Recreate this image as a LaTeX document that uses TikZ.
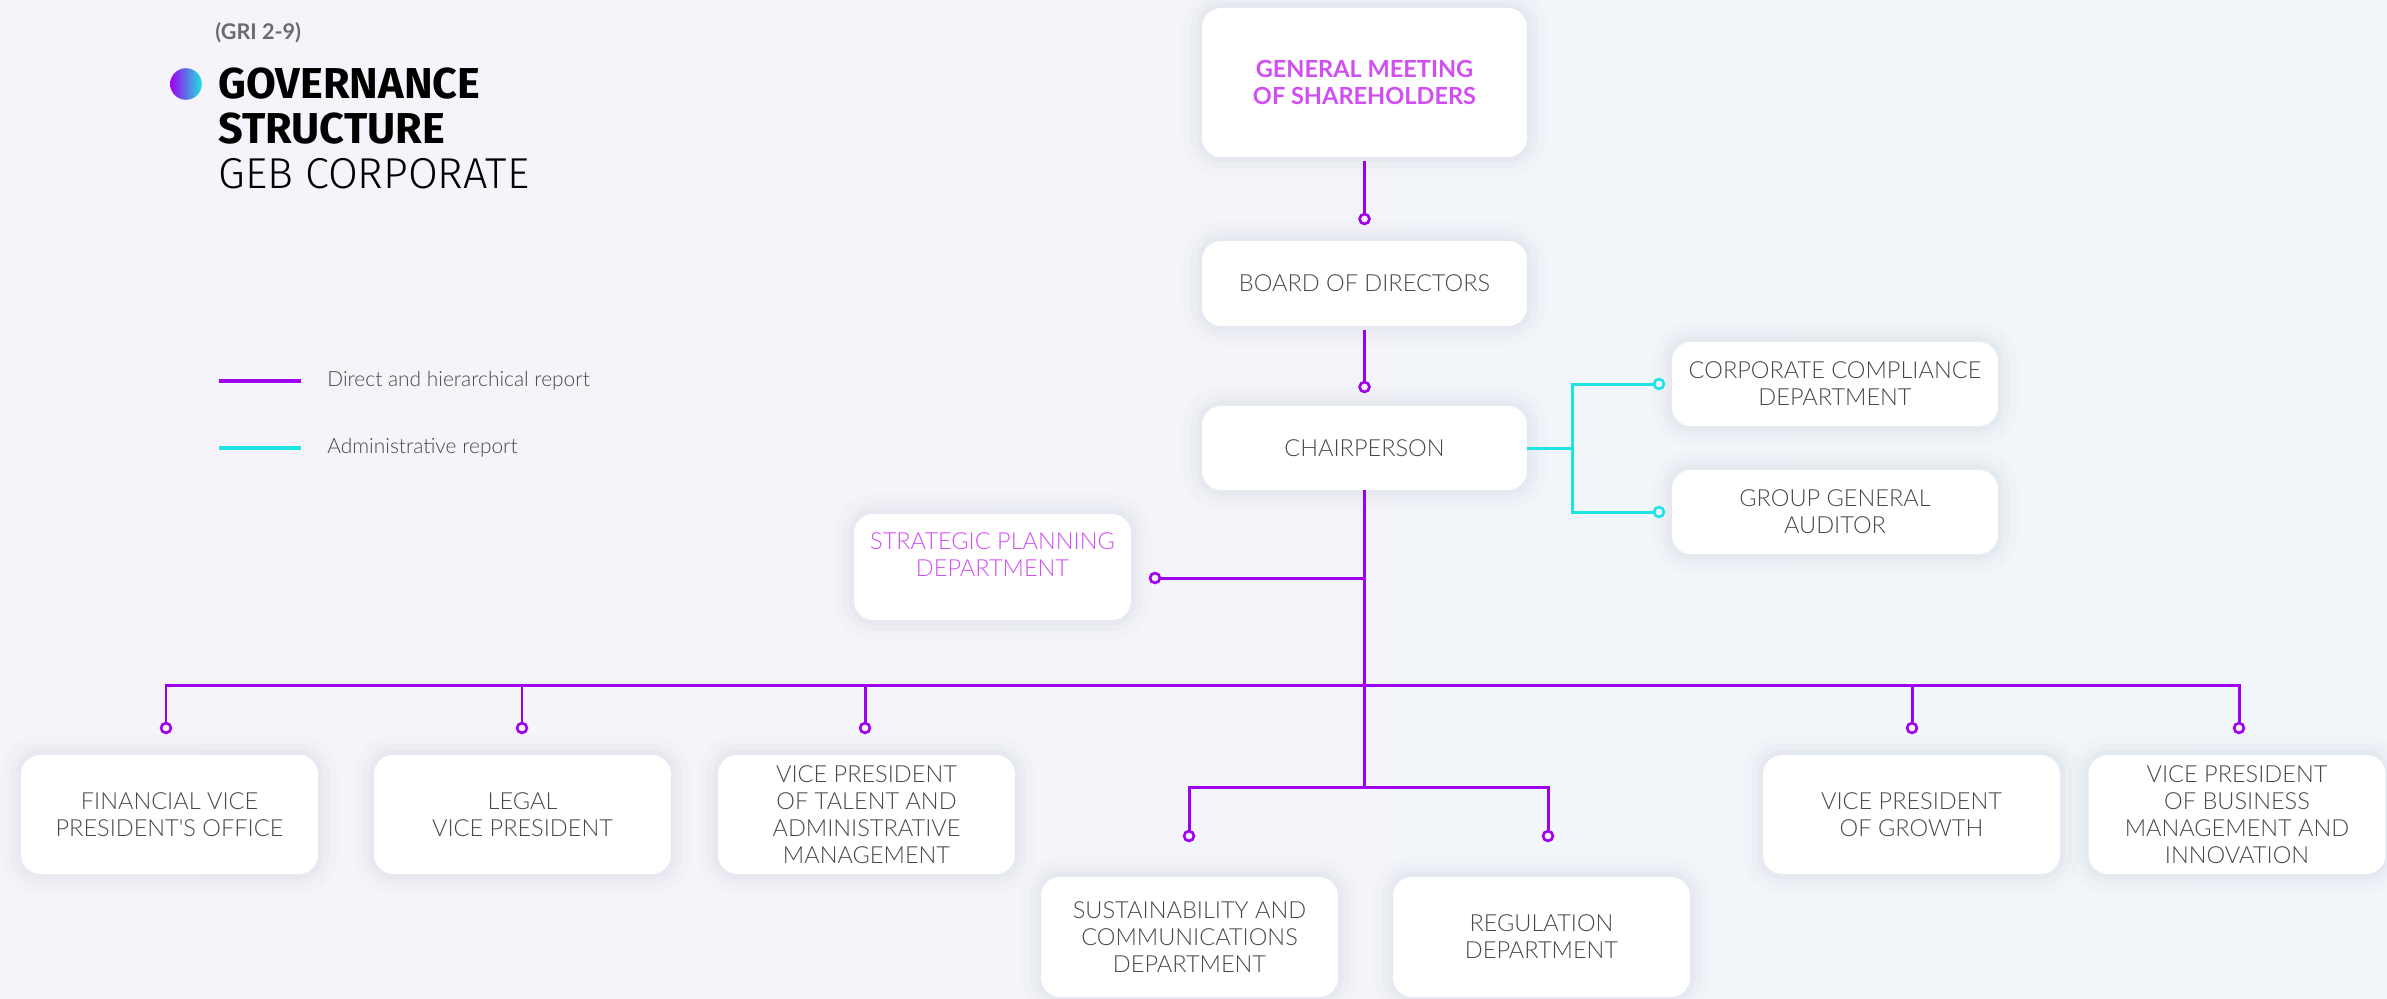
\documentclass[tikz,border=0pt]{standalone}
\usepackage{fontspec}
\setmainfont{Lato}[BoldFont={Lato Bold}]
\newfontfamily\lightfont{Lato Light}
\newfontfamily\titlefont{Fira Sans}
\newfontfamily\titlelight{Fira Sans Light}
\definecolor{vio}{HTML}{A000F0}
\definecolor{cya}{HTML}{1EE3E3}
\definecolor{mag}{HTML}{D04EF2}
\definecolor{txtgray}{HTML}{474747}
\definecolor{bgl}{HTML}{F6F4FA}
\definecolor{bgr}{HTML}{F0F6FA}
\definecolor{glow}{HTML}{6A6A90}

\begin{document}
\begin{tikzpicture}[x=0.02cm, y=-0.02cm,
  every node/.style={font=\lightfont\fontsize{13.4}{15.3}\selectfont, text=txtgray},
  box/.style={fill=white, rounded corners=11pt, align=center, inner sep=0pt,
    minimum width=6.5cm,
    preaction={draw=glow, draw opacity=0.018, line width=22pt},
    preaction={draw=glow, draw opacity=0.025, line width=13pt},
    preaction={draw=glow, draw opacity=0.03, line width=6pt}},
  lowbox/.style={box, minimum width=5.94cm, minimum height=2.38cm},
  hier/.style={draw=vio, line width=1.7pt},
  admin/.style={draw=cya, line width=1.7pt},
  ring/.style={circle, draw=vio, fill=bgl, line width=1.5pt, minimum size=5.6pt, inner sep=0pt}]
\useasboundingbox (0,0) rectangle (2387,998);
\shade[left color=bgl, right color=bgr] (0,0) rectangle (2387,998);

% title and legend
\node[anchor=west, inner sep=0pt, font=\bfseries\fontsize{12.3}{14}\selectfont, text=black!58] (gri) at (215,33) {(GRI 2-9)};
\shade[left color=vio, middle color={rgb,255:red,90;green,110;blue,240}, right color=cya] (186,84) circle (9pt);
\node[anchor=north west, inner sep=0pt, align=left, text=black,
  font=\titlefont\fontsize{24.6}{25.8}\selectfont] (title) at (218,67)
  {\textbf{GOVERNANCE}\\\textbf{STRUCTURE}\\{\titlelight GEB CORPORATE}};
\coordinate (l1a) at (219,381);
\coordinate (l1b) at (301,381);
\coordinate (l2a) at (219,448);
\coordinate (l2b) at (301,448);
\draw[hier, line width=2.8pt] (l1a) -- (l1b);
\draw[admin, line width=2.8pt] (l2a) -- (l2b);
\node[anchor=west, inner sep=0pt, font=\lightfont\fontsize{11.9}{14}\selectfont] (l1t) at (327,381) {Direct and hierarchical report};
\node[anchor=west, inner sep=0pt, font=\lightfont\fontsize{11.9}{14}\selectfont] (l2t) at (327,448) {Administrative report};

% top of the chart
\node[box, minimum height=2.98cm, text=mag, font=\bfseries\fontsize{13.4}{15.3}\selectfont] (gms) at (1364.5,82.5) {GENERAL MEETING\\OF SHAREHOLDERS};
\node[box, minimum height=1.7cm] (bod) at (1364.5,283.5) {BOARD OF DIRECTORS};
\node[box, minimum height=1.68cm] (chair) at (1364.5,448) {CHAIRPERSON};
\node[box, minimum width=6.52cm, minimum height=1.68cm] (comp) at (1835,384) {CORPORATE COMPLIANCE\\DEPARTMENT};
\node[box, minimum width=6.52cm, minimum height=1.68cm] (aud) at (1835,512) {GROUP GENERAL\\AUDITOR};
\node[box, minimum width=5.54cm, minimum height=2.12cm, text depth=14pt, text=mag] (strat) at (992.5,567) {STRATEGIC PLANNING\\DEPARTMENT};

% lower rows
\node[lowbox] (fin) at (169.5,814.5) {FINANCIAL VICE\\PRESIDENT'S OFFICE};
\node[lowbox] (leg) at (522.5,814.5) {LEGAL\\VICE PRESIDENT};
\node[lowbox] (tal) at (866.5,814.5) {VICE PRESIDENT\\OF TALENT AND\\ADMINISTRATIVE\\MANAGEMENT};
\node[lowbox, minimum height=2.4cm] (sus) at (1189.5,937) {SUSTAINABILITY AND\\COMMUNICATIONS\\DEPARTMENT};
\node[lowbox, minimum height=2.4cm] (reg) at (1541.5,937) {REGULATION\\DEPARTMENT};
\node[lowbox] (gro) at (1911.5,814.5) {VICE PRESIDENT\\OF GROWTH};
\node[lowbox] (biz) at (2237,814.5) {VICE PRESIDENT\\OF BUSINESS\\MANAGEMENT AND\\INNOVATION};

% end rings
\node[ring] (m1) at (1364.5,219) {};
\node[ring] (m2) at (1364.5,387) {};
\node[ring] (mstr) at (1155,578) {};
\node[ring, draw=cya] (mcom) at (1659,384) {};
\node[ring, draw=cya] (maud) at (1659,512) {};
\node[ring] (mfin) at (166,728) {};
\node[ring] (mleg) at (522,728) {};
\node[ring] (mtal) at (865,728) {};
\node[ring] (mgro) at (1912,728) {};
\node[ring] (mbiz) at (2239,728) {};
\node[ring] (msus) at (1189,836) {};
\node[ring] (mreg) at (1548,836) {};
\coordinate (bus) at (1364.5,685);
\coordinate (subbus) at (1364.5,787);
\coordinate (cy) at (1572,448);

% connectors
\draw[hier] ([yshift=-2pt]gms.south) -- (m1);
\draw[hier] ([yshift=-2pt]bod.south) -- (m2);
\draw[hier] (chair.south) -- (subbus);
\draw[hier] (mstr) -- (mstr -| chair.south);
\draw[hier] (mfin) |- (bus) -| (mbiz);
\foreach \m in {mleg,mtal,mgro}
  \draw[hier] (\m) -- (\m |- bus);
\draw[hier] (msus) |- (subbus) -| (mreg);
\draw[admin] (chair.east) -- (cy);
\draw[admin] (mcom) -| (cy) |- (maud);
\end{tikzpicture}
\end{document}
